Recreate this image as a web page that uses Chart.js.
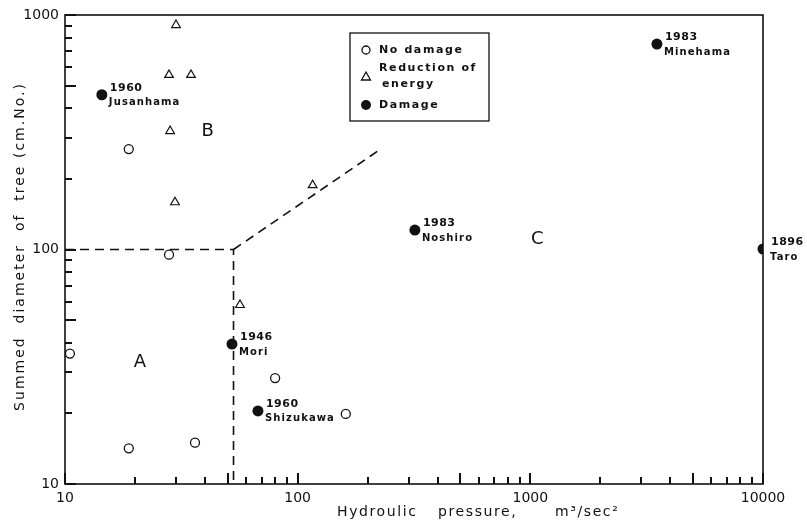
<!DOCTYPE html>
<html>
<head>
<meta charset="utf-8">
<script src="https://cdn.jsdelivr.net/npm/chart.js@4.4.0/dist/chart.umd.min.js"></script>
<style>
  html, body { margin: 0; padding: 0; background: #fff; }
</style>
</head>
<body>
<canvas id="myChart" width="807" height="524"></canvas>
<script>
const noDamageX = [10.5, 18.8, 28.0, 18.8, 36.2, 80, 161];
const noDamageY = [36, 268, 95, 14.2, 15.0, 28.3, 19.9];
const reductionX = [30, 28, 34.8, 28.3, 29.7, 56.5, 116];
const reductionY = [906, 555, 555, 320, 159, 58, 188];
const damageX = [14.4, 52.2, 67.5, 319, 3500, 10000];
const damageY = [457, 39.5, 20.5, 121, 752, 100.5];
const damageYears = ['1960', '1946', '1960', '1983', '1983', '1896'];
const damageNames = ['Jusanhama', 'Mori', 'Shizukawa', 'Noshiro', 'Minehama', 'Taro'];
const boundaryX = [10, 53, 53];
const boundaryY = [100, 100, 10];
const slopeX = [53, 230];
const slopeY = [100, 270];
const regionNames = ['A', 'B', 'C'];
const regionX = [21, 41, 1070];
const regionY = [33, 320, 111];
const xTickLabels = [10, 100, 1000, 10000];
const yTickLabels = [10, 100, 1000];

const pts = (xs, ys) => xs.map((x, i) => ({x: x, y: ys[i]}))
const INK = '#111'

// 1..9 x each decade between min and max
const logSteps = (min, max) => {
  const out = []
  for (let d = min; d < max; d *= 10) {
    for (let m = 1; m < 10; m++) out.push(m * d)
  }
  out.push(max)
  return out
}

const decor = {
  id: 'decor',
  afterDraw(chart) {
    const {ctx, chartArea: a, scales: {x, y}} = chart
    ctx.save()
    ctx.strokeStyle = INK
    ctx.fillStyle = INK
    ctx.lineWidth = 1.6
    ctx.strokeRect(a.left, a.top, a.right - a.left, a.bottom - a.top)

    // inward ticks, snapped to whole pixels
    const len = v => {
      const m = Math.round(v / Math.pow(10, Math.floor(Math.log10(v) + 1e-9)))
      return (m === 1 || m === 5) ? 11 : 7
    }
    ctx.lineWidth = 2
    ctx.lineCap = 'butt'
    logSteps(x.min, x.max).forEach(v => {
      const px = Math.round(x.getPixelForValue(v))
      ctx.beginPath()
      ctx.moveTo(px, a.bottom); ctx.lineTo(px, a.bottom - len(v))
      ctx.stroke()
    })
    logSteps(y.min, y.max).forEach(v => {
      const py = Math.round(y.getPixelForValue(v))
      ctx.beginPath()
      ctx.moveTo(a.left, py); ctx.lineTo(a.left + len(v), py)
      ctx.stroke()
    })

    // point labels
    ctx.textBaseline = 'middle'
    ctx.textAlign = 'left'
    damageX.forEach((v, i) => {
      const px = x.getPixelForValue(v), py = y.getPixelForValue(damageY[i])
      ctx.font = 'bold 11px "DejaVu Sans"'
      ctx.letterSpacing = '0.5px'
      ctx.fillText(damageYears[i], px + 8, py - 7)
      ctx.font = 'bold 10px "DejaVu Sans"'
      ctx.letterSpacing = '1.1px'
      ctx.fillText(damageNames[i], px + 7, py + 8)
    })

    // region letters
    ctx.font = '18px "DejaVu Sans"'
    ctx.letterSpacing = '0px'
    ctx.textAlign = 'center'
    regionNames.forEach((n, i) => {
      ctx.fillText(n, x.getPixelForValue(regionX[i]), y.getPixelForValue(regionY[i]))
    })

    // legend box
    ctx.lineWidth = 1.3
    ctx.strokeRect(350, 33, 139, 88)
    ctx.beginPath(); ctx.arc(366, 50, 4, 0, Math.PI * 2); ctx.stroke()
    ctx.beginPath(); ctx.moveTo(366, 72); ctx.lineTo(370.5, 80); ctx.lineTo(361.5, 80); ctx.closePath(); ctx.stroke()
    ctx.beginPath(); ctx.arc(366, 105, 5, 0, Math.PI * 2); ctx.fill()
    ctx.textAlign = 'left'
    ctx.font = 'bold 11px "DejaVu Sans"'
    ctx.letterSpacing = '1.6px'
    ctx.fillText('No damage', 379, 50)
    ctx.fillText('Reduction of', 379, 68)
    ctx.fillText('energy', 382, 84)
    ctx.fillText('Damage', 379, 105)

    // axis titles
    ctx.font = '14px "DejaVu Sans"'
    ctx.letterSpacing = '1.6px'
    ctx.textAlign = 'left'
    ctx.fillText('Hydroulic', 337, 512)
    ctx.fillText('pressure,', 438, 512)
    ctx.fillText('m\u00b3/sec\u00b2', 555, 512)

    ctx.translate(20, (a.top + a.bottom) / 2 - 3)
    ctx.rotate(-Math.PI / 2)
    ctx.textAlign = 'center'
    ctx.letterSpacing = '2px'
    ctx.fillText('Summed  diameter  of  tree (cm.No.)', 0, 0)
    ctx.restore()
  }
}

const ctx = document.getElementById('myChart')

new Chart(ctx, {
  type: 'scatter',
  data: {
    datasets: [
      {
        label: 'No damage',
        data: pts(noDamageX, noDamageY),
        pointStyle: 'circle',
        pointRadius: 4.5,
        backgroundColor: '#fff',
        borderColor: INK,
        borderWidth: 1.3
      },
      {
        label: 'Reduction of energy',
        data: pts(reductionX, reductionY),
        pointStyle: 'triangle',
        pointRadius: 5,
        backgroundColor: '#fff',
        borderColor: INK,
        borderWidth: 1.2
      },
      {
        label: 'Damage',
        data: pts(damageX, damageY),
        pointStyle: 'circle',
        pointRadius: 5.5,
        backgroundColor: INK,
        borderColor: INK,
        borderWidth: 0
      },
      {
        type: 'line',
        data: pts(boundaryX, boundaryY),
        borderColor: INK,
        borderWidth: 1.6,
        borderDash: [9, 6],
        pointRadius: 0,
        fill: false
      },
      {
        type: 'line',
        data: pts(slopeX, slopeY),
        borderColor: INK,
        borderWidth: 1.6,
        borderDash: [9, 6],
        pointRadius: 0,
        fill: false
      }
    ]
  },
  options: {
    responsive: false,
    animation: false,
    layout: { padding: { top: 15, right: 44, left: 0, bottom: 0 } },
    plugins: {
      legend: { display: false },
      tooltip: { enabled: false }
    },
    scales: {
      x: {
        type: 'logarithmic',
        min: 10,
        max: 10000,
        grid: { display: false, drawTicks: false },
        border: { display: false },
        afterFit: s => { s.height = 40 },
        ticks: {
          autoSkip: false,
          maxRotation: 0,
          padding: 6,
          color: INK,
          font: { family: 'DejaVu Sans', size: 14 },
          callback: v => xTickLabels.includes(v) ? String(v) : ''
        }
      },
      y: {
        type: 'logarithmic',
        min: 10,
        max: 1000,
        grid: { display: false, drawTicks: false },
        border: { display: false },
        afterFit: s => { s.width = 65 },
        ticks: {
          autoSkip: false,
          padding: 6,
          color: INK,
          font: { family: 'DejaVu Sans', size: 14 },
          callback: v => yTickLabels.includes(v) ? String(v) : ''
        }
      }
    }
  },
  plugins: [decor]
})
</script>
</body>
</html>
